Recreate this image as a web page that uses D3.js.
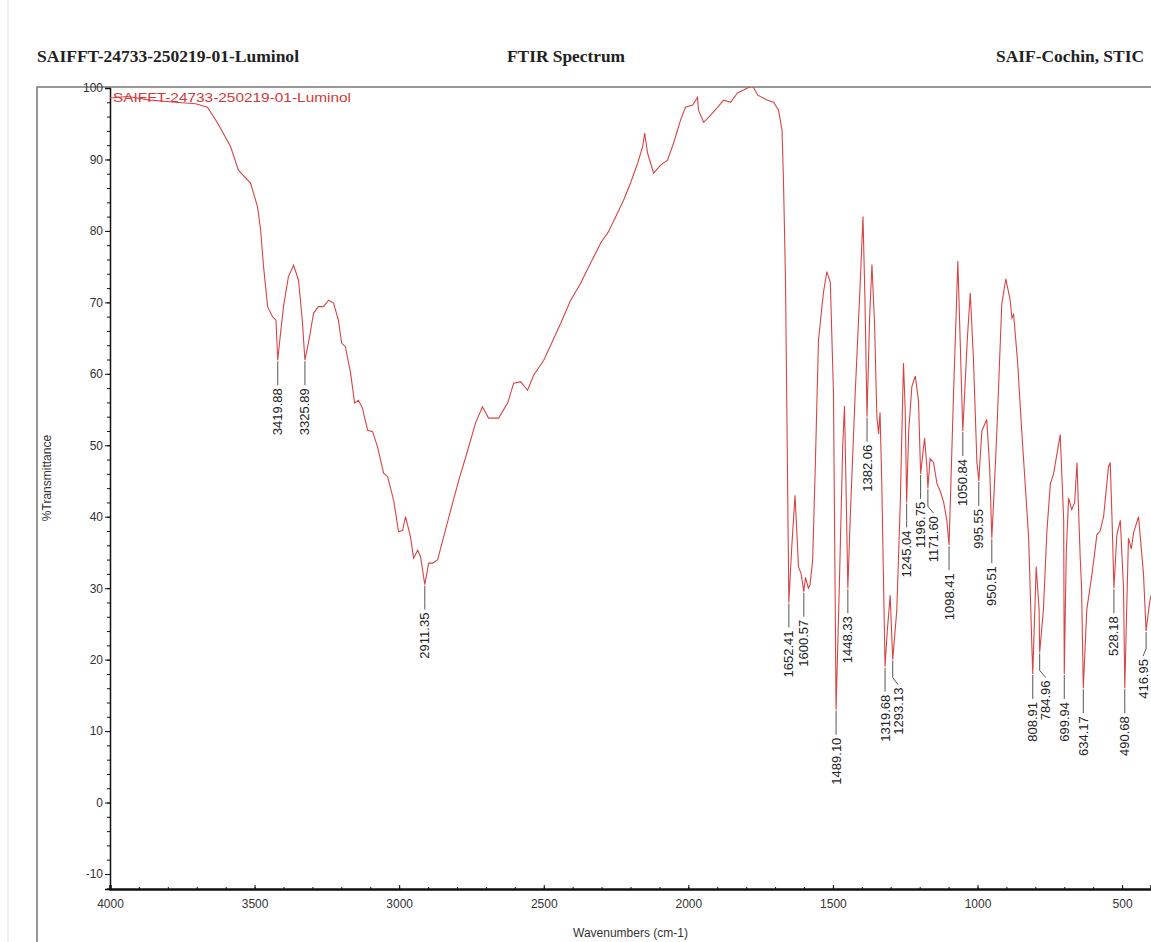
<!DOCTYPE html>
<html>
<head>
<meta charset="utf-8">
<script src="https://cdn.jsdelivr.net/npm/d3@7/dist/d3.min.js"></script>
<style>
  body { margin: 0; background: #fff; }
  svg { display: block; }
  .axis text { font-family: "Liberation Sans", Arial, sans-serif; font-size: 12px; fill: #333; }
  .axis path, .axis line { stroke: #111; }
  .peak-label { font-family: "Liberation Sans", Arial, sans-serif; font-size: 13px; fill: #222; }
  .header { font-family: "Liberation Serif", "Times New Roman", serif; font-weight: bold; font-size: 16px; fill: #222; }
</style>
</head>
<body>
<svg id="chart" width="1151" height="942"></svg>
<script>
// spectrum (cm-1, %T)
const wavenumbers = [
  4000, 3940, 3860, 3773, 3704, 3663, 3628, 3583, 3556, 3514, 3490, 3479, 3469, 3455, 3438, 3426,
  3419.88, 3412, 3400, 3383, 3365, 3348, 3335, 3325.89, 3312, 3296, 3279, 3262, 3244, 3227, 3210,
  3199, 3186, 3168, 3154, 3141, 3127, 3109, 3092, 3075, 3054, 3040, 3019, 3002, 2988, 2978, 2961,
  2950, 2936, 2926, 2911.35, 2898, 2884, 2867, 2846, 2822, 2794, 2763, 2736, 2712, 2691, 2656, 2625,
  2604, 2580, 2556, 2535, 2500, 2476, 2441, 2407, 2372, 2338, 2303, 2276, 2245, 2224, 2200, 2175,
  2158, 2151, 2141, 2120, 2096, 2072, 2051, 2027, 2010, 1985, 1968, 1965, 1947, 1923, 1899, 1878,
  1854, 1830, 1795, 1778, 1760, 1726, 1705, 1688, 1676, 1671, 1664, 1652.41, 1642, 1631, 1619, 1610,
  1600.57, 1595, 1585, 1579, 1570, 1561, 1550, 1533, 1521, 1509, 1498, 1489.10, 1478, 1466, 1460,
  1455, 1448.33, 1440, 1423, 1406, 1396, 1389, 1382.06, 1373, 1365, 1356, 1348, 1342, 1337, 1331,
  1319.68, 1312, 1302, 1293.13, 1279, 1267, 1256, 1250, 1245.04, 1238, 1227, 1215, 1204, 1196.75,
  1183, 1175, 1171.60, 1164, 1152, 1140, 1129, 1117, 1106, 1098.41, 1083, 1068, 1058, 1050.84, 1035,
  1025, 1014, 1002, 995.55, 985, 968, 958, 950.51, 942, 933, 916, 902, 887, 881, 875, 862, 847, 823,
  812, 808.91, 797, 787, 784.96, 772, 760, 748, 737, 714, 702, 699.94, 693, 685, 674, 664, 656, 645,
  640, 634.17, 622, 604, 587, 576, 564, 547, 541, 535, 528.18, 518, 506, 495, 490.68, 478, 468, 460,
  443, 426, 416.95, 405, 400
];
const transmittance = [
  98.6, 98.8, 98.3, 98.0, 97.8, 97.3, 95.1, 91.8, 88.5, 86.7, 83.4, 80.1, 75.0, 69.4, 68.0, 67.5,
  61.9, 65.0, 69.4, 73.6, 75.2, 73.1, 67.5, 61.9, 64.7, 68.5, 69.4, 69.4, 70.3, 69.9, 67.5,
  64.3, 63.8, 60.1, 55.9, 56.3, 55.2, 52.1, 51.9, 49.8, 46.1, 45.6, 42.3, 37.9, 38.1, 40.0, 37.2,
  34.2, 35.3, 34.4, 30.5, 33.5, 33.5, 34.0, 37.2, 40.9, 45.1, 49.3, 53.1, 55.4, 53.8, 53.8, 55.9,
  58.7, 58.9, 57.7, 59.8, 61.9, 64.0, 67.1, 70.3, 72.7, 75.5, 78.3, 79.9, 82.5, 84.3, 86.7, 89.5,
  91.8, 93.7, 90.9, 88.1, 89.2, 89.9, 92.3, 95.5, 97.3, 97.6, 98.7, 96.9, 95.2, 96.2, 97.3, 98.3,
  98.0, 99.3, 100.0, 100.3, 99.0, 98.3, 98.0, 96.9, 94.1, 87.1, 73.1, 28.0, 36.0, 43.0, 33.0, 32.0,
  29.5, 31.5, 30.0, 30.5, 34.0, 47.0, 64.7, 71.3, 74.3, 72.8, 57.2, 13.0, 30.0, 50.0, 55.5,
  45.0, 30.0, 40.0, 57.2, 72.3, 82.0, 70.0, 54.0, 68.0, 75.3, 67.0, 54.0, 51.6, 54.6, 44.6,
  19.0, 24.0, 29.0, 20.0, 27.0, 42.0, 61.5, 55.0, 42.0, 52.0, 58.2, 59.7, 56.2, 46.0,
  51.0, 47.0, 44.0, 48.1, 47.6, 44.6, 43.6, 42.0, 39.5, 36.0, 57.0, 75.8, 62.0, 52.0, 65.0,
  71.3, 62.0, 47.6, 45.0, 52.0, 53.6, 47.0, 37.0, 44.0, 52.0, 69.8, 73.3, 70.3, 67.8, 68.3, 62.0, 52.0, 37.0,
  21.9, 18.0, 33.0, 27.0, 21.0, 27.0, 38.0, 44.6, 46.0, 51.5, 39.5, 18.0, 35.0, 42.6, 41.0, 42.0, 47.6, 34.5,
  30.0, 16.0, 27.0, 32.0, 37.5, 38.0, 40.0, 47.0, 47.6, 40.0, 30.0, 37.5, 39.5, 30.0, 16.0, 37.0, 35.5, 37.8,
  40.0, 32.0, 24.0, 28.0, 29.0
];
const peakLabels = [
  3419.88, 3325.89, 2911.35, 1652.41, 1600.57, 1489.10, 1448.33, 1382.06, 1319.68, 1293.13,
  1245.04, 1196.75, 1171.60, 1098.41, 1050.84, 995.55, 950.51, 808.91, 784.96, 699.94,
  634.17, 528.18, 490.68, 416.95
];
const xTicks = [4000, 3500, 3000, 2500, 2000, 1500, 1000, 500];
const yTicks = [-10, 0, 10, 20, 30, 40, 50, 60, 70, 80, 90, 100];
const sampleName = "SAIFFT-24733-250219-01-Luminol";

const svg = d3.select("#chart");
const plotLeft = 110, plotRight = 1151, plotTop = 88, plotBottom = 889;

const x = d3.scaleLinear().domain([4000, 400]).range([plotLeft, plotRight]);
const y = d3.scaleLinear().domain([-12.1, 100]).range([plotBottom, plotTop]);

// page frame
svg.append("line").attr("x1", 8).attr("x2", 8).attr("y1", 0).attr("y2", 942)
  .attr("stroke", "#e2e2e2");
svg.append("path")
  .attr("d", `M37,942V87H1151`)
  .attr("fill", "none").attr("stroke", "#777").attr("stroke-width", 1.5);

// header
svg.append("text").attr("class", "header").attr("x", 37).attr("y", 62)
  .attr("textLength", 262).attr("lengthAdjust", "spacingAndGlyphs").text(sampleName);
svg.append("text").attr("class", "header").attr("x", 566).attr("y", 62)
  .attr("text-anchor", "middle").attr("textLength", 118).attr("lengthAdjust", "spacingAndGlyphs")
  .text("FTIR Spectrum");
svg.append("text").attr("class", "header").attr("x", 1144).attr("y", 62)
  .attr("text-anchor", "end").attr("textLength", 148).attr("lengthAdjust", "spacingAndGlyphs")
  .text("SAIF-Cochin, STIC");

// axes
svg.append("g").attr("class", "axis")
  .attr("transform", `translate(${plotLeft},0)`)
  .call(d3.axisLeft(y).tickValues(d3.range(-12, 101, 2)).tickSize(3).tickFormat(""))
  .call(g => g.select(".domain").remove());
svg.append("g").attr("class", "axis")
  .attr("transform", `translate(${plotLeft},0)`)
  .call(d3.axisLeft(y).tickValues(yTicks).tickSize(5).tickPadding(2).tickFormat(d => String(d)))
  .call(g => g.select(".domain").attr("stroke-width", 1.5));

svg.append("g").attr("class", "axis")
  .attr("transform", `translate(0,${plotBottom})`)
  .call(d3.axisBottom(x).tickValues(d3.range(4000, 399, -100)).tickSize(-2).tickFormat(""))
  .call(g => g.select(".domain").remove());
svg.append("g").attr("class", "axis")
  .attr("transform", `translate(0,${plotBottom})`)
  .call(d3.axisBottom(x).tickValues(xTicks).tickSize(-4).tickPadding(10).tickFormat(d => String(d)))
  .call(g => g.select(".domain").attr("stroke-width", 2.5));

// axis titles
svg.append("text")
  .attr("transform", "translate(51,478) rotate(-90)")
  .attr("text-anchor", "middle")
  .style("font-family", "Liberation Sans, Arial, sans-serif").style("font-size", "12px").attr("fill", "#333")
  .text("%Transmittance");
svg.append("text")
  .attr("x", (plotLeft + plotRight) / 2).attr("y", 937)
  .attr("text-anchor", "middle")
  .style("font-family", "Liberation Sans, Arial, sans-serif").style("font-size", "12px").attr("fill", "#333")
  .text("Wavenumbers (cm-1)");

// spectrum
svg.append("clipPath").attr("id", "clip")
  .append("rect").attr("x", plotLeft).attr("y", plotTop - 1)
  .attr("width", plotRight - plotLeft).attr("height", plotBottom - plotTop + 1);

const spectrum = wavenumbers.map((w, i) => ({ w: w, t: transmittance[i] }));
const line = d3.line().x(d => x(d.w)).y(d => y(d.t));

svg.append("path")
  .datum(spectrum)
  .attr("clip-path", "url(#clip)")
  .attr("fill", "none")
  .attr("stroke", "#d64545")
  .attr("stroke-width", 1.1)
  .attr("d", line);

svg.append("text")
  .attr("x", plotLeft + 3).attr("y", 102)
  .style("font-family", "Liberation Sans, Arial, sans-serif").style("font-size", "13px")
  .attr("fill", "#d23a3a")
  .attr("textLength", 238).attr("lengthAdjust", "spacingAndGlyphs")
  .text(sampleName);

// peak labels, pushed right when they would overlap, kept inside the page
const peaks = peakLabels.map(w => {
  const t = transmittance[wavenumbers.indexOf(w)];
  return { w: w, t: t, px: x(w), py: y(t) };
});
const placed = [];
peaks.forEach(p => {
  p.top = p.py + 28;
  p.bot = p.top + 50;
  p.lx = p.px;
  let moved = true;
  while (moved) {
    moved = false;
    placed.forEach(q => {
      if (Math.abs(p.lx - q.lx) < 13 && p.top < q.bot && p.bot > q.top) {
        p.lx = q.lx + 13;
        moved = true;
      }
    });
  }
  p.lx = Math.min(p.lx, plotRight - 8);
  placed.push(p);
});

svg.selectAll(".leader")
  .data(peaks)
  .enter().append("path")
  .attr("class", "leader")
  .attr("fill", "none")
  .attr("stroke", "#555")
  .attr("d", d => `M${d.px},${d.py + 1}V${d.py + 18}L${d.lx},${d.py + 25}`);

svg.selectAll(".peak-label")
  .data(peaks)
  .enter().append("text")
  .attr("class", "peak-label")
  .attr("text-anchor", "end")
  .attr("dy", "0.35em")
  .attr("transform", d => `translate(${d.lx},${d.top}) rotate(-90)`)
  .text(d => d.w.toFixed(2));
</script>
</body>
</html>
